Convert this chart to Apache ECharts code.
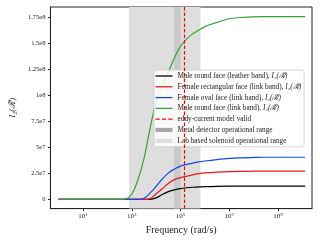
<!DOCTYPE html>
<html><head><meta charset="utf-8">
<script src="https://cdn.jsdelivr.net/npm/echarts@6/dist/echarts.min.js"></script>
<style>html,body{margin:0;padding:0;background:#fff}#c{width:320px;height:240px}</style>
</head><body><div id="c"></div>
<script>
// log10 of angular frequency (rad/s)
const logOmega = [0,0.5,1,1.5,2,2.5,2.75,3,3.25,3.5,3.75,4,4.25,4.5,4.75,5,5.25,5.5,5.75,6,6.5,7,7.5,8,8.5,9,9.5,10,10.1];
const maleLeather = [0,0,0,0,0,0,0,0,0,0,0.001e8,0.015e8,0.047e8,0.075e8,0.092e8,0.104e8,0.112e8,0.117e8,0.12e8,0.123e8,0.126e8,0.127e8,0.127e8,0.127e8,0.127e8,0.127e8,0.127e8,0.127e8,0.127e8];
const femaleRect = [0,0,0,0,0,0,0,0,0,0,0.008e8,0.055e8,0.103e8,0.153e8,0.19e8,0.209e8,0.223e8,0.236e8,0.248e8,0.255e8,0.263e8,0.268e8,0.27e8,0.271e8,0.271e8,0.271e8,0.271e8,0.271e8,0.271e8];
const femaleOval = [0,0,0,0,0,0,0,0,0,0.012e8,0.06e8,0.125e8,0.195e8,0.253e8,0.291e8,0.32e8,0.336e8,0.349e8,0.36e8,0.369e8,0.383e8,0.394e8,0.4e8,0.403e8,0.405e8,0.405e8,0.405e8,0.405e8,0.405e8];
const maleLink = [0,0,0,0,0,0,0.005e8,0.05e8,0.186e8,0.39e8,0.68e8,0.94e8,1.10e8,1.22e8,1.36e8,1.47e8,1.54e8,1.59e8,1.625e8,1.66e8,1.70e8,1.735e8,1.747e8,1.753e8,1.755e8,1.756e8,1.756e8,1.756e8,1.756e8];
const eddyValidLog = 5.14;
const metalRangeLog = [4.74, 5.01];
const labRangeLog = [2.89, 5.82];
const xTickExp = [1,3,5,7,9];
const yTickValues = [0,0.25e8,0.5e8,0.75e8,1e8,1.25e8,1.5e8,1.75e8];
const yTickLabels = ['0','2.5e7','5e7','7.5e7','1e8','1.25e8','1.5e8','1.75e8'];
const names = ['Male round face (leather band), I₂(ℛ̃)','Female rectangular face (link band), I₂(ℛ̃)','Female oval face (link band), I₂(ℛ̃)','Male round face (link band), I₂(ℛ̃)','eddy-current model valid','Metal detector operational range','Lab based solenoid operational range'];

const FONT = 'Liberation Serif';
const colors = ['#000000','#e31a1c','#1447e6','#33a532'];
const curves = [maleLeather, femaleRect, femaleOval, maleLink];
const pair = arr => logOmega.map((x,i)=>[x,arr[i]]);
const lineIcon = 'path://M0,0h20v1.5h-20z';
const dashIcon = 'path://M0,0h5v1.5h-5zM7.5,0h5v1.5h-5zM15,0h5v1.5h-5z';
const rectIcon = 'path://M0,0h20v5h-20z';

const series = [
  {name: names[6], type:'line', data:[], color:'#dedede', silent:true,
   markArea:{silent:true, itemStyle:{color:'#dedede'}, data:[[{xAxis:labRangeLog[0]},{xAxis:labRangeLog[1]}]]}},
  {name: names[5], type:'line', data:[], color:'#a8a8a8', silent:true,
   markArea:{silent:true, itemStyle:{color:'#c9c9c9'}, data:[[{xAxis:metalRangeLog[0]},{xAxis:metalRangeLog[1]}]]}}
];
curves.forEach((c,i)=>series.push({name:names[i], type:'line', data:pair(c), color:colors[i], showSymbol:false,
  smooth:0.4, lineStyle:{width:1.2, color:colors[i], cap:'round', join:'round'}, itemStyle:{color:colors[i]}, silent:true}));
series.push({name:names[4], type:'line', data:[], color:'#ff0000', silent:true,
  markLine:{silent:true, symbol:'none', label:{show:false}, lineStyle:{type:[3.5,2], color:'#ff0000', width:1.2},
  data:[{xAxis:eddyValidLog}]}});

const chart = echarts.init(document.getElementById('c'), null, {renderer:'canvas'});
chart.setOption({
  animation:false,
  textStyle:{fontFamily:FONT},
  grid:{left:47, right:8, top:7, bottom:31, show:true, borderColor:'#222', borderWidth:1, backgroundColor:'transparent'},
  xAxis:{type:'value', min:-0.34, max:10.4,
    name:'Frequency (rad/s)', nameLocation:'middle', nameGap:12,
    nameTextStyle:{fontFamily:FONT, fontSize:10, color:'#222'},
    axisLine:{show:true, onZero:false, lineStyle:{color:'#222'}},
    axisTick:{show:true, length:2.5, customValues:xTickExp, lineStyle:{color:'#222'}},
    splitLine:{show:false},
    axisLabel:{customValues:xTickExp, margin:4, formatter:v=>'{b|10}{e|'+v+'}',
      rich:{b:{fontFamily:FONT, fontSize:7, color:'#222'}, e:{fontFamily:FONT, fontSize:5, color:'#222', verticalAlign:'top', padding:[0,0,3,0]}}}},
  yAxis:{type:'value', min:-0.088e8, max:1.848e8,
    name:'I₂(ℛ̃)', nameLocation:'middle', nameGap:30, nameRotate:90,
    nameTextStyle:{fontFamily:FONT, fontSize:9, fontStyle:'italic', color:'#222'},
    axisLine:{show:true, onZero:false, lineStyle:{color:'#222'}},
    axisTick:{show:true, length:2.5, customValues:yTickValues, lineStyle:{color:'#222'}},
    splitLine:{show:false},
    axisLabel:{customValues:yTickValues, margin:5, fontSize:6.5, color:'#222', fontFamily:FONT,
      formatter:v=>{const i=yTickValues.findIndex(t=>Math.abs(t-v)<1); return i>=0?yTickLabels[i]:'';}}},
  legend:{orient:'vertical', left:154, top:70, padding:[2,3,2,1.5], itemGap:2.8, itemWidth:17, itemHeight:8,
    backgroundColor:'rgba(255,255,255,0.85)', borderColor:'#cccccc', borderWidth:0.8, borderRadius:2,
    itemStyle:{borderWidth:0}, selectedMode:false,
    textStyle:{fontFamily:FONT, fontSize:7.3, color:'#222', lineHeight:8,
      rich:{n:{fontFamily:FONT, fontSize:7.3, color:'#222'}, m:{fontFamily:FONT, fontSize:7.3, fontStyle:'italic', color:'#222'}}},
    formatter:name=>{const k=name.indexOf(', I₂'); return k<0?'{n|'+name+'}':'{n|'+name.slice(0,k+2)+'}{m|'+name.slice(k+2)+'}';},
    data:[
      {name:names[0], icon:lineIcon},
      {name:names[1], icon:lineIcon},
      {name:names[2], icon:lineIcon},
      {name:names[3], icon:lineIcon},
      {name:names[4], icon:dashIcon},
      {name:names[5], icon:rectIcon, itemStyle:{color:'#a8a8a8'}},
      {name:names[6], icon:rectIcon, itemStyle:{color:'#dedede'}}
    ]},
  series: series
});
</script></body></html>
